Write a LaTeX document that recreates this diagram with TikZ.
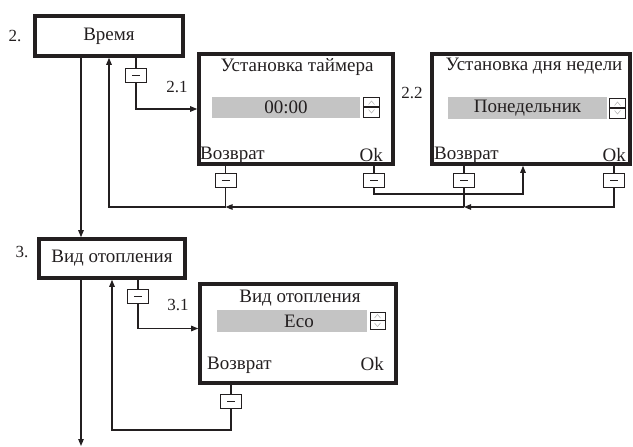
\documentclass[tikz,border=0pt]{standalone}
\usepackage{fontspec}
\setmainfont{Liberation Serif}
\usetikzlibrary{arrows.meta,positioning,calc}
\definecolor{Ink}{HTML}{231F20}
\definecolor{Field}{HTML}{C4C4C4}
\definecolor{Faint}{HTML}{B0B0B0}
\tikzset{
  menubox/.style={draw=Ink,line width=3.6pt,font=\fontsize{19}{22}\selectfont,text=Ink},
  screen/.style={draw=Ink,line width=3.6pt},
  field/.style={fill=Field,inner sep=0pt,font=\fontsize{19}{22}\selectfont,text=Ink},
  spinner/.style={draw=Ink,line width=0.9pt,minimum width=16pt,minimum height=20pt,inner sep=0pt,
    path picture={
      \draw[line width=1.6pt] (path picture bounding box.west) -- (path picture bounding box.east);
      \draw[Faint,line width=0.5pt] ([shift={(-3pt,2.5pt)}]path picture bounding box.center) -- ([shift={(0pt,6pt)}]path picture bounding box.center) -- ([shift={(3pt,2.5pt)}]path picture bounding box.center);
      \draw[Faint,line width=0.5pt] ([shift={(-3pt,-2.5pt)}]path picture bounding box.center) -- ([shift={(0pt,-6pt)}]path picture bounding box.center) -- ([shift={(3pt,-2.5pt)}]path picture bounding box.center);
    }},
  keybox/.style={draw=Ink,line width=1pt,minimum width=21pt,minimum height=14pt,inner sep=0pt,
    path picture={
      \draw[line width=1pt] ([xshift=-4pt]path picture bounding box.center) -- ([xshift=4pt]path picture bounding box.center);
    }},
  label/.style={font=\fontsize{19}{22}\selectfont,text=Ink,inner sep=0pt},
  numlabel/.style={font=\fontsize{17}{20}\selectfont,text=Ink,inner sep=0pt},
  line/.style={draw=Ink,line width=1.1pt},
  arrow/.style={line,-{Triangle[length=7pt,width=5.5pt]}}
}

\begin{document}
\begin{tikzpicture}[x=1pt,y=-1pt]
  \useasboundingbox (0,0) rectangle (633,447);

  % 2. time menu
  \node[menubox,minimum width=148pt,minimum height=40pt] (time) at (109,36) {Время};
  \node[numlabel] at (15,36) {2.};
  \node[keybox] (ktime) at (136,75) {};

  % 2.1 timer screen
  \node[screen,minimum width=194pt,minimum height=110pt] (timer) at (296,109) {};
  \node[numlabel] at (177,87) {2.1};
  \node[label] (timertitle) at (297,67) {Установка таймера};
  \node[field,minimum width=148pt,minimum height=21pt] (timerfield) at (286,107.5) {00:00};
  \node[spinner] (timerspin) at (371.5,107) {};
  \node[label,anchor=west] (timerback) at (200,155) {Возврат};
  \node[label,anchor=east] (timerok) at (383,155) {Ok};
  \node[keybox] (kback1) at (225.5,180) {};
  \node[keybox] (kok1) at (374,180) {};

  % 2.2 weekday screen
  \node[screen,minimum width=198pt,minimum height=110pt] (day) at (531,109) {};
  \node[numlabel] at (412,93) {2.2};
  \node[label] (daytitle) at (534,66) {Установка дня недели};
  \node[field,minimum width=159pt,minimum height=22pt] (dayfield) at (527.5,108) {Понедельник};
  \node[spinner] (dayspin) at (617.5,108) {};
  \node[label,anchor=west] (dayback) at (434,155) {Возврат};
  \node[label,anchor=east] (dayok) at (626,155) {Ok};
  \node[keybox] (kback2) at (464,180) {};
  \node[keybox] (kok2) at (614,180) {};

  % 3. heating menu
  \node[menubox,minimum width=146pt,minimum height=39pt] (heat) at (112,258.5) {Вид отопления};
  \node[numlabel] at (22,252) {3.};
  \node[keybox] (kheat) at (138,296.5) {};

  % 3.1 heating mode screen
  \node[screen,minimum width=196pt,minimum height=99pt] (mode) at (298,333.5) {};
  \node[numlabel] at (178,305) {3.1};
  \node[label] (modetitle) at (300,298) {Вид отопления};
  \node[field,minimum width=150pt,minimum height=22pt] (modefield) at (292,321) {\hspace{14pt}Eco};
  \node[spinner,minimum width=15pt,minimum height=17pt] (modespin) at (377.5,320.5) {};
  \node[label,anchor=west] (modeback) at (207,365) {Возврат};
  \node[label,anchor=east] (modeok) at (384,364) {Ok};
  \node[keybox] (kback3) at (231,401) {};

  % routing points
  \coordinate (trunk) at (81,0);
  \coordinate (busa) at (0,207);
  \coordinate (busb) at (0,194);
  \coordinate (rise) at (523,0);
  \coordinate (busc) at (0,430);
  \coordinate (exit) at (81,446);

  % main chain
  \draw[arrow] (time.south -| trunk) -- (heat.north -| trunk);
  \draw[arrow] (heat.south -| trunk) -- (exit);

  % time branch
  \draw[line] (time.south -| ktime) -- (ktime.north);
  \draw[arrow] (ktime.south) |- (timer.west);
  \draw[line] (timer.south -| kback1) -- (kback1.north);
  \draw[line] (timer.south -| kok1) -- (kok1.north);
  \draw[line] (day.south -| kback2) -- (kback2.north);
  \draw[line] (day.south -| kok2) -- (kok2.north);
  \draw[arrow] (kok1.south) |- (rise |- busb) -- (rise |- day.south);
  \draw[arrow] (kok2.south) |- (kback2 |- busa);
  \draw[line] (kback2.south) -- (kback2 |- busa);
  \draw[arrow] (kback2 |- busa) -- (kback1 |- busa);
  \draw[arrow] (kback1.south) -- (kback1 |- busa) -| (time.south);

  % heating branch
  \draw[line] (heat.south -| kheat) -- (kheat.north);
  \draw[arrow] (kheat.south) |- ([yshift=5pt]mode.west);
  \draw[line] (mode.south -| kback3) -- (kback3.north);
  \draw[arrow] (kback3.south) -- (kback3 |- busc) -| (heat.south);
\end{tikzpicture}
\end{document}
